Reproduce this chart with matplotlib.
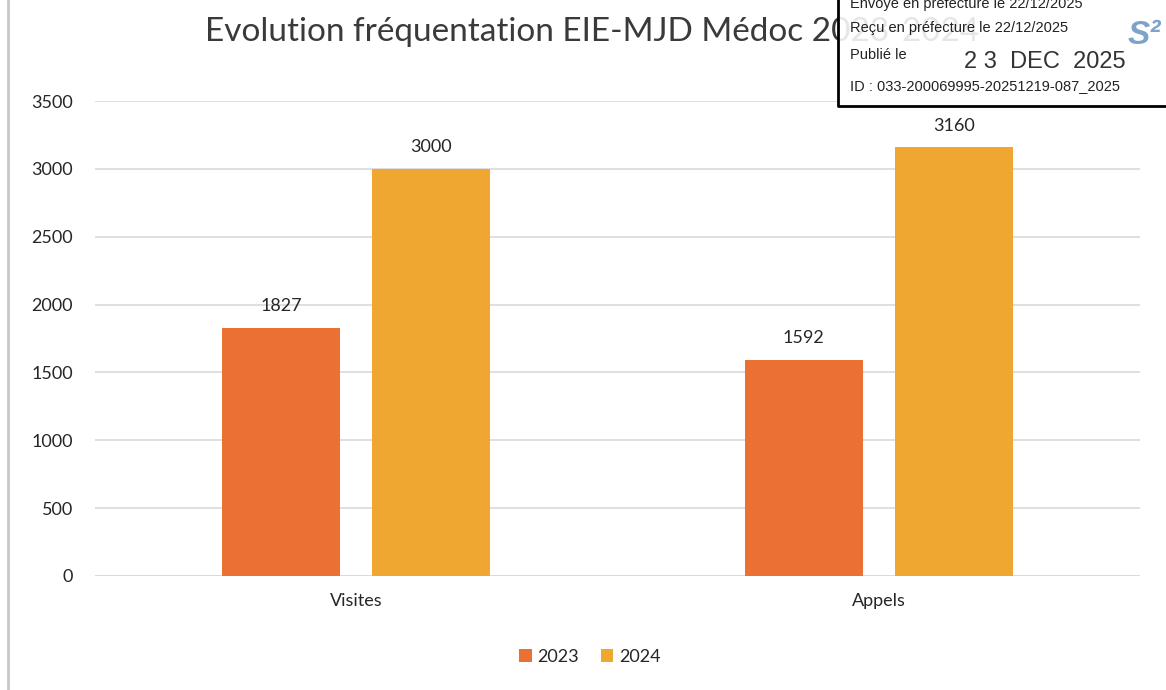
import matplotlib
matplotlib.use('Agg')
import matplotlib.pyplot as plt
import numpy as np
from matplotlib.patches import Rectangle
from matplotlib.lines import Line2D

# --- données ---
categories = ['Visites', 'Appels']
series_names = ['2023', '2024']
values_2023 = [1827, 1592]
values_2024 = [3000, 3160]
yticks = [0, 500, 1000, 1500, 2000, 2500, 3000, 3500]

# --- couleurs ---
C2023 = '#EB7033'
C2024 = '#F0A731'
GRID = '#D9D9D9'
TXT = '#262626'

plt.rcParams['font.family'] = ['Lato', 'DejaVu Sans']

fig = plt.figure(figsize=(11.66, 6.9), dpi=100)
ax = fig.add_axes([95 / 1166, 114 / 690, 1045 / 1166, 475 / 690])

x = np.arange(len(categories))
w = 0.226
off = 0.1435
bars1 = ax.bar(x - off, values_2023, w, color=C2023, label=series_names[0], zorder=3)
bars2 = ax.bar(x + off, values_2024, w, color=C2024, label=series_names[1], zorder=3)

for bars in (bars1, bars2):
    for b in bars:
        ax.text(b.get_x() + b.get_width() / 2, b.get_height() + 100, f'{int(b.get_height())}',
                ha='center', va='bottom', fontsize=13, color=TXT, zorder=4)

ax.set_xlim(-0.5, 1.5)
ax.set_ylim(0, 3500)
ax.set_yticks(yticks)
ax.set_yticklabels([str(t) for t in yticks], fontsize=13, color=TXT)
ax.set_xticks(x)
ax.set_xticklabels(categories, fontsize=13, color=TXT)
ax.tick_params(length=0, pad=12)
ax.tick_params(axis='y', pad=16)
ax.grid(axis='y', color=GRID, linewidth=1.2, zorder=0)
for s in ax.spines.values():
    s.set_visible(False)
ax.axhline(0, color=GRID, linewidth=1.2, zorder=2)

fig.text(592 / 1166, 1 - 32 / 690, 'Evolution fréquentation EIE-MJD Médoc 2023-2024',
         ha='center', va='center', fontsize=24, color='#3A3A3A')

leg = fig.legend(loc='center', bbox_to_anchor=(590 / 1166, 1 - 657 / 690), ncol=2,
                 frameon=False, fontsize=13, handlelength=0.7, handleheight=0.7,
                 columnspacing=1.2, handletextpad=0.3)
for t in leg.get_texts():
    t.set_color(TXT)

# bordure gauche du cadre scanné
fig.add_artist(Line2D([8 / 1166, 8 / 1166], [0, 1], color='#C8C8C8', linewidth=2))

# --- tampon préfecture ---
fig.add_artist(Rectangle((838 / 1166, 1 - 106 / 690), 340 / 1166, 110 / 690,
                         facecolor='white', alpha=0.88, edgecolor='none', zorder=5))
fig.add_artist(Line2D([838 / 1166, 838 / 1166, 1.0], [1.0, 1 - 106 / 690, 1 - 106 / 690],
                      color='black', linewidth=2, zorder=6))
sf = dict(family='Liberation Sans', fontsize=10.5, color='#222222', zorder=7, va='center')
fig.text(850 / 1166, 1 - 4 / 690, 'Envoyé en préfecture le 22/12/2025', **sf)
fig.text(850 / 1166, 1 - 28 / 690, 'Reçu en préfecture le 22/12/2025', **sf)
fig.text(850 / 1166, 1 - 55 / 690, 'Publié le', **sf)
fig.text(850 / 1166, 1 - 86 / 690, 'ID : 033-200069995-20251219-087_2025', **sf)
fig.text(1045 / 1166, 1 - 62 / 690, '2 3  DEC  2025', ha='center', va='center',
         family='Liberation Sans', fontsize=17, color='#333333', zorder=7)
fig.text(1128 / 1166, 1 - 36 / 690, 'S²', ha='left', va='center', family='Liberation Sans',
         fontsize=24, fontweight='bold', fontstyle='italic', color='#7FA3C8', zorder=7)

fig.savefig('out.png', dpi=100, facecolor='white')
